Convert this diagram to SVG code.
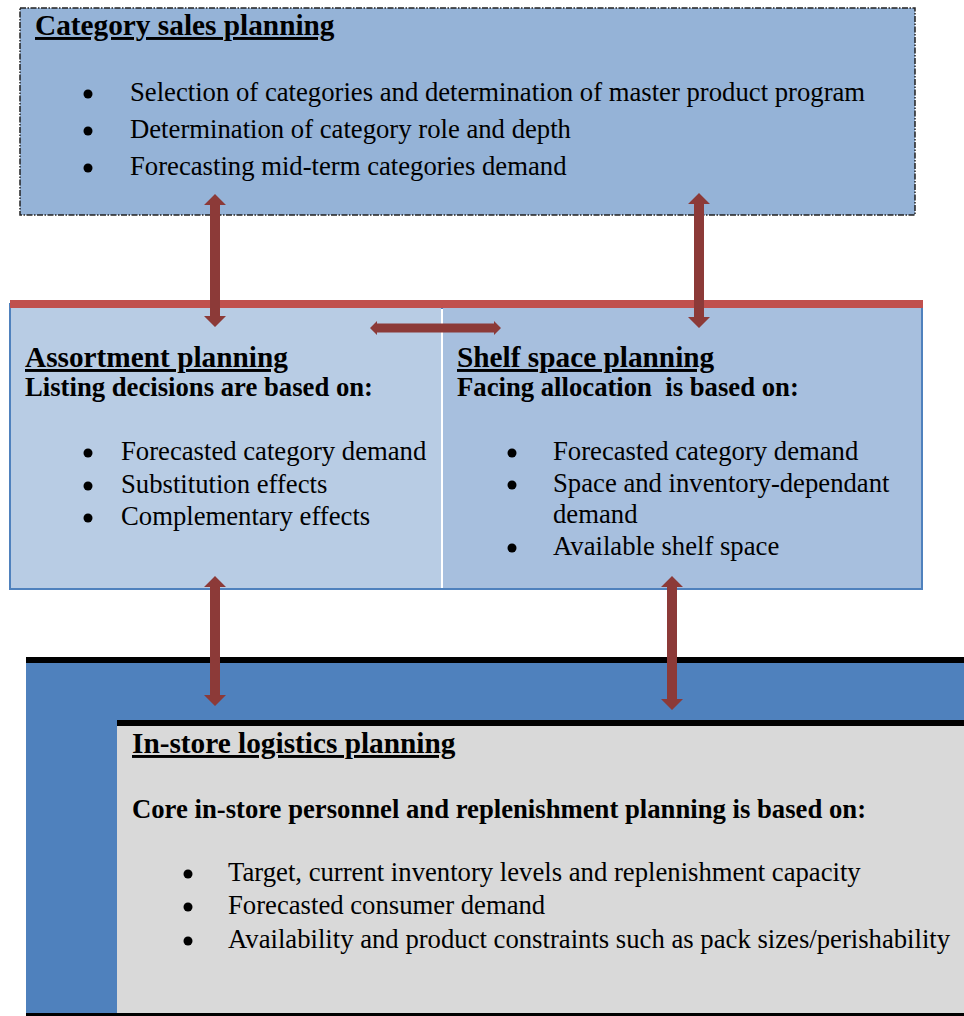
<svg xmlns="http://www.w3.org/2000/svg" width="964" height="1016" viewBox="0 0 964 1016">
  <style>
    .t { font-family: "Liberation Serif", "Times New Roman", serif; fill: #000; }
    .h { font-weight: bold; font-size: 29.3px; text-decoration: underline; }
    .s { font-weight: bold; font-size: 26.7px; }
    .b { font-size: 26.7px; }
    .arr { fill: #8C3A38; }
  </style>
  <defs>
    <circle id="dot" r="4.5" fill="#000"/>
  </defs>

  <!-- Category sales planning -->
  <g id="category-sales">
    <rect x="20" y="8" width="895" height="207" fill="#95B3D7" stroke="#222" stroke-width="1.5" stroke-dasharray="6 1.5 1.5 1.5"/>
    <text class="t h" x="35" y="35">Category sales planning</text>
    <use href="#dot" x="88" y="94"/>
    <use href="#dot" x="88" y="131"/>
    <use href="#dot" x="88" y="168"/>
    <text class="t b" x="130" y="101">Selection of categories and determination of master product program</text>
    <text class="t b" x="130" y="138">Determination of category role and depth</text>
    <text class="t b" x="130" y="175">Forecasting mid-term categories demand</text>
  </g>

  <!-- Assortment planning -->
  <g id="assortment">
    <rect x="10" y="304" width="432" height="285" fill="#B8CCE4" stroke="#4F81BD" stroke-width="2"/>
    <text class="t h" x="25" y="367">Assortment planning</text>
    <text class="t s" x="25" y="396">Listing decisions are based on:</text>
    <use href="#dot" x="88" y="453"/>
    <use href="#dot" x="88" y="486"/>
    <use href="#dot" x="88" y="518"/>
    <text class="t b" x="121" y="460">Forecasted category demand</text>
    <text class="t b" x="121" y="493">Substitution effects</text>
    <text class="t b" x="121" y="525">Complementary effects</text>
  </g>

  <!-- Shelf space planning -->
  <g id="shelf-space">
    <rect x="442" y="304" width="480" height="285" fill="#A7BFDE" stroke="#4F81BD" stroke-width="2"/>
    <line x1="442" y1="309" x2="442" y2="588" stroke="#FFFFFF" stroke-width="2"/>
    <text class="t h" x="457" y="367">Shelf space planning</text>
    <text class="t s" x="457" y="396" xml:space="preserve">Facing allocation  is based on:</text>
    <use href="#dot" x="512" y="453"/>
    <use href="#dot" x="512" y="485"/>
    <use href="#dot" x="512" y="548"/>
    <text class="t b" x="553" y="460">Forecasted category demand</text>
    <text class="t b" x="553" y="492">Space and inventory-dependant</text>
    <text class="t b" x="553" y="523">demand</text>
    <text class="t b" x="553" y="555">Available shelf space</text>
  </g>

  <!-- red band over the middle row -->
  <rect x="10" y="300" width="913" height="8" fill="#C0504D"/>

  <!-- In-store logistics planning -->
  <g id="in-store-logistics">
    <rect x="26" y="660" width="938" height="356" fill="#4F81BD"/>
    <rect x="26" y="657" width="938" height="6" fill="#000"/>
    <rect x="117" y="724" width="847" height="290" fill="#D9D9D9"/>
    <rect x="117" y="720" width="847" height="6" fill="#000"/>
    <rect x="26" y="1013" width="938" height="3" fill="#000"/>
    <text class="t h" x="132" y="753">In-store logistics planning</text>
    <text class="t s" x="132" y="818">Core in-store personnel and replenishment planning is based on:</text>
    <use href="#dot" x="188" y="874"/>
    <use href="#dot" x="188" y="907"/>
    <use href="#dot" x="188" y="941"/>
    <text class="t b" x="228" y="881">Target, current inventory levels and replenishment capacity</text>
    <text class="t b" x="228" y="914">Forecasted consumer demand</text>
    <text class="t b" x="228" y="948">Availability and product constraints such as pack sizes/perishability</text>
  </g>

  <!-- connectors: double-headed block arrows -->
  <g id="connectors">
    <path class="arr" d="M215 194 L226 205 L220 205 L220 316 L226 316 L215 327 L204 316 L210 316 L210 205 L204 205 Z"/>
    <path class="arr" d="M699 193 L710 204 L704 204 L704 317 L710 317 L699 328 L688 317 L694 317 L694 204 L688 204 Z"/>
    <path class="arr" d="M370 328 L377 321 L377 323.5 L494 323.5 L494 321 L501 328 L494 335 L494 332.5 L377 332.5 L377 335 Z"/>
    <path class="arr" d="M215 576 L226 587 L220 587 L220 695 L226 695 L215 706 L204 695 L210 695 L210 587 L204 587 Z"/>
    <path class="arr" d="M672 576 L683 587 L677 587 L677 699 L683 699 L672 710 L661 699 L667 699 L667 587 L661 587 Z"/>
  </g>
</svg>
